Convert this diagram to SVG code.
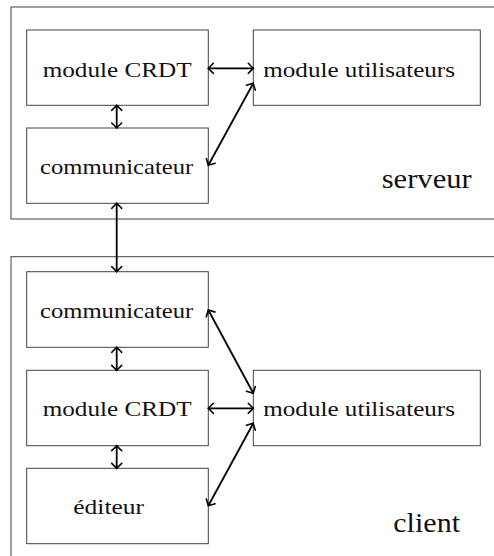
<svg xmlns="http://www.w3.org/2000/svg" width="494" height="556" viewBox="0 0 494 556">
<style>
.box{fill:none;stroke:#444;stroke-width:1}
text{font-family:'Liberation Serif','Times New Roman',serif;fill:#111}
.lbl{font-size:22px}
.big{font-size:28px}
.arr{fill:none;stroke:#000;stroke-width:1.8;marker-start:url(#ah);marker-end:url(#ah)}
</style>
<defs>
<marker id="ah" markerUnits="userSpaceOnUse" markerWidth="16" markerHeight="16" refX="0" refY="0" viewBox="-8 -8 16 16" orient="auto-start-reverse" overflow="visible">
<path d="M -5 -5 Q -1.3 -1.1 0 0 Q -1.3 1.1 -5 5" fill="none" stroke="#000" stroke-width="1.6" stroke-linecap="round"/>
</marker>
</defs>
<rect width="494" height="556" fill="#fff"/>
<g id="serveur">
<rect class="box" x="11" y="7" width="500" height="212"/>
<text class="big" x="381.7" y="188.3" textLength="90" lengthAdjust="spacingAndGlyphs">serveur</text>
</g>
<g id="client">
<rect class="box" x="11" y="256.7" width="500" height="320"/>
<text class="big" x="393.3" y="531.7" textLength="66.7" lengthAdjust="spacingAndGlyphs">client</text>
</g>
<g id="s-crdt">
<rect class="box" x="26.7" y="30" width="181.6" height="75.3"/>
<text class="lbl" x="42.7" y="76.7" textLength="149" lengthAdjust="spacingAndGlyphs">module CRDT</text>
</g>
<g id="s-users">
<rect class="box" x="253.3" y="30" width="227" height="75.3"/>
<text class="lbl" x="263.3" y="76.7" textLength="191.7" lengthAdjust="spacingAndGlyphs">module utilisateurs</text>
</g>
<g id="s-comm">
<rect class="box" x="26.7" y="128" width="181.6" height="75.3"/>
<text class="lbl" x="40" y="174.3" textLength="153.3" lengthAdjust="spacingAndGlyphs">communicateur</text>
</g>
<g id="c-comm">
<rect class="box" x="26.7" y="271.7" width="181.6" height="75.6"/>
<text class="lbl" x="40" y="318.3" textLength="153.3" lengthAdjust="spacingAndGlyphs">communicateur</text>
</g>
<g id="c-crdt">
<rect class="box" x="26.7" y="370.3" width="181.6" height="75.4"/>
<text class="lbl" x="42.7" y="416" textLength="149" lengthAdjust="spacingAndGlyphs">module CRDT</text>
</g>
<g id="c-users">
<rect class="box" x="253.3" y="370.3" width="227" height="75.4"/>
<text class="lbl" x="263.3" y="416" textLength="191.7" lengthAdjust="spacingAndGlyphs">module utilisateurs</text>
</g>
<g id="c-editeur">
<rect class="box" x="26.7" y="468.3" width="181.6" height="75.4"/>
<text class="lbl" x="73.3" y="514" textLength="70.7" lengthAdjust="spacingAndGlyphs">éditeur</text>
</g>
<g id="connectors">
<line class="arr" x1="208.3" y1="68.3" x2="253.3" y2="68.3"/>
<line class="arr" x1="116.7" y1="105.3" x2="116.7" y2="128"/>
<line class="arr" x1="253.3" y1="83.3" x2="208.3" y2="165.3"/>
<line class="arr" x1="116.7" y1="203.3" x2="116.7" y2="271.7"/>
<line class="arr" x1="208.3" y1="310" x2="253.3" y2="393.3"/>
<line class="arr" x1="208.3" y1="408.3" x2="253.3" y2="408.3"/>
<line class="arr" x1="208.3" y1="505.7" x2="253.3" y2="423.3"/>
<line class="arr" x1="116.7" y1="347.3" x2="116.7" y2="370.3"/>
<line class="arr" x1="116.7" y1="445.7" x2="116.7" y2="468.3"/>
</g>
</svg>
